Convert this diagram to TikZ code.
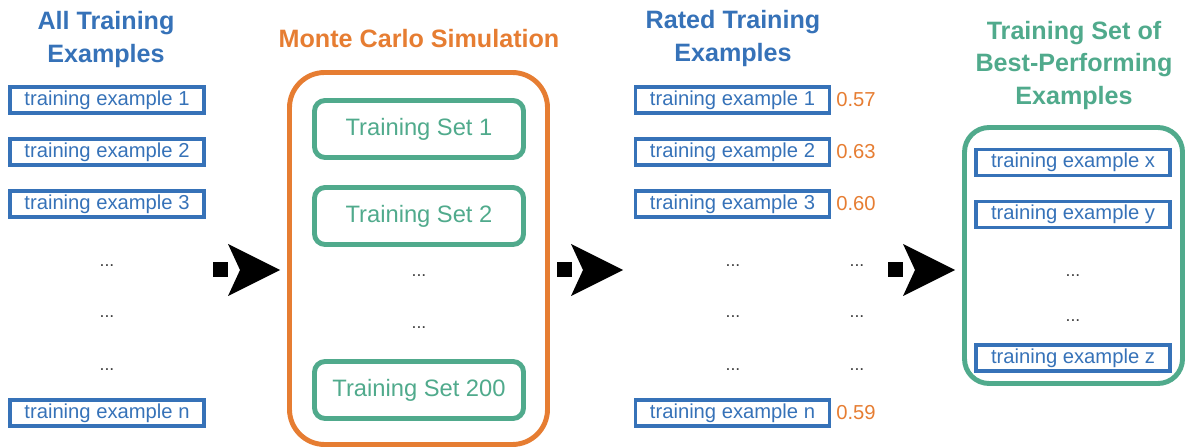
\documentclass[tikz,border=0pt]{standalone}
\usepackage{fontspec}
\setmainfont{Liberation Sans}
\usepackage{xcolor}
\usepackage{tikz}
\usetikzlibrary{positioning,arrows.meta}

\definecolor{exblue}{HTML}{3672B8}
\definecolor{setgreen}{HTML}{50AA8C}
\definecolor{mcorange}{HTML}{E67D32}

\begin{document}
\begin{tikzpicture}[
  ex/.style={draw=exblue, line width=2.2pt, text=exblue, minimum width=3.88cm, minimum height=0.52cm, inner sep=0pt, font=\fontsize{11.5}{13}\selectfont},
  tset/.style={draw=setgreen, line width=2.8pt, rounded corners=6pt, text=setgreen, minimum width=4.18cm, minimum height=1.14cm, inner sep=0pt, font=\fontsize{13.5}{16}\selectfont},
  colhead/.style={font=\bfseries\fontsize{14.3}{18.5}\selectfont, align=center},
  gap/.style={text=darkgray, yshift=-0.08cm, font=\fontsize{10}{12}\selectfont},
  score/.style={text=mcorange, font=\fontsize{11.5}{13}\selectfont},
  flow/.style={line width=0.3cm, dash pattern=on 0.3cm off 3cm, -{Stealth[length=1.04cm, width=1.04cm, inset=0.24cm, line width=0pt]}}
]
\useasboundingbox (0,0) rectangle (23.74,-8.96);

% all training examples (left)
\node[colhead, text=exblue] (H1) at (2.12,-0.79) {All Training\\Examples};
\node[ex] (E1) at (2.14,-2.00) {training example 1};
\node[ex] (E2) at (2.14,-3.04) {training example 2};
\node[ex] (E3) at (2.14,-4.08) {training example 3};
\node[gap] (E4) at (2.14,-5.24) {...};
\node[gap] (E5) at (2.14,-6.26) {...};
\node[gap] (E6) at (2.14,-7.32) {...};
\node[ex] (En) at (2.14,-8.26) {training example n};

% monte carlo simulation (middle)
\node[colhead, text=mcorange] (H2) at (8.38,-0.78) {Monte Carlo Simulation};
\node[draw=mcorange, line width=2.8pt, rounded corners=20pt, minimum width=5.16cm, minimum height=7.44cm] (MC) at (8.37,-5.17) {};
\node[tset] (T1) at (8.38,-2.58) {Training Set 1};
\node[tset] (T2) at (8.38,-4.32) {Training Set 2};
\node[gap] (T3) at (8.38,-5.44) {...};
\node[gap] (T4) at (8.38,-6.48) {...};
\node[tset] (T200) at (8.38,-7.80) {Training Set 200};

% rated training examples
\node[colhead, text=exblue] (H3) at (14.66,-0.77) {Rated Training\\Examples};
\node[ex] (R1) at (14.65,-2.00) {training example 1};
\node[ex] (R2) at (14.65,-3.04) {training example 2};
\node[ex] (R3) at (14.65,-4.08) {training example 3};
\node[gap] (R4) at (14.66,-5.24) {...};
\node[gap] (R5) at (14.66,-6.26) {...};
\node[gap] (R6) at (14.66,-7.32) {...};
\node[ex] (Rn) at (14.65,-8.26) {training example n};

% scores
\node[score] (S1) at (17.12,-2.00) {0.57};
\node[score] (S2) at (17.12,-3.04) {0.63};
\node[score] (S3) at (17.12,-4.08) {0.60};
\node[gap] (S4) at (17.14,-5.24) {...};
\node[gap] (S5) at (17.14,-6.26) {...};
\node[gap] (S6) at (17.14,-7.32) {...};
\node[score] (Sn) at (17.12,-8.26) {0.59};

% best-performing set (right)
\node[colhead, text=setgreen] (H4) at (21.48,-1.31) {Training Set of\\Best-Performing\\Examples};
\node[draw=setgreen, line width=2.8pt, rounded corners=14pt, minimum width=4.36cm, minimum height=5.12cm] (BP) at (21.47,-5.11) {};
\node[ex] (Bx) at (21.46,-3.25) {training example x};
\node[ex] (By) at (21.46,-4.29) {training example y};
\node[gap] (B3) at (21.46,-5.44) {...};
\node[gap] (B4) at (21.46,-6.34) {...};
\node[ex] (Bz) at (21.46,-7.16) {training example z};

% arrows between stages
\coordinate (a1) at (4.26,-5.40);
\coordinate (b1) at (5.60,-5.40);
\coordinate (a2) at (11.14,-5.40);
\coordinate (b2) at (12.46,-5.40);
\coordinate (a3) at (17.76,-5.40);
\coordinate (b3) at (19.10,-5.40);
\draw[flow] (a1) -- (b1);
\draw[flow] (a2) -- (b2);
\draw[flow] (a3) -- (b3);
\end{tikzpicture}
\end{document}
